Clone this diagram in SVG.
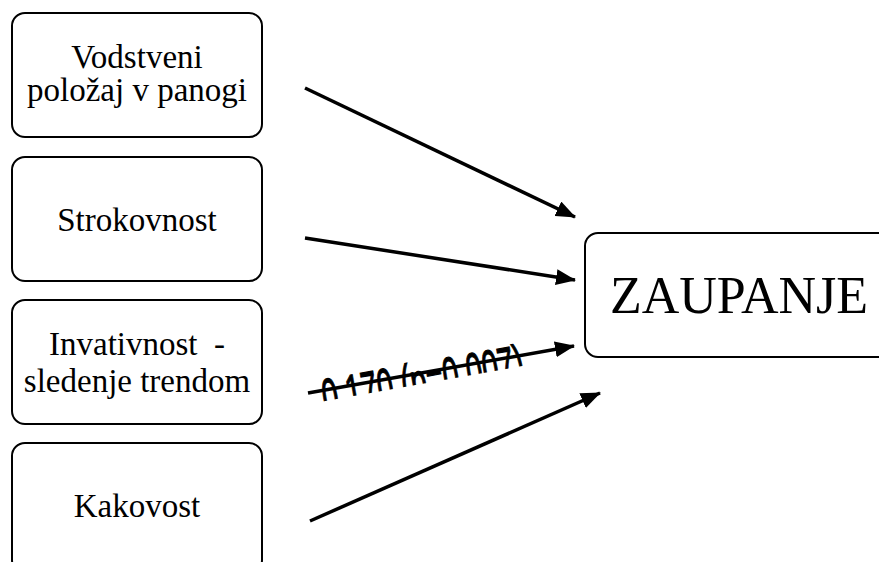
<svg xmlns="http://www.w3.org/2000/svg" width="879" height="562" viewBox="0 0 879 562">
  <style>
    .box { fill: #ffffff; stroke: #000000; stroke-width: 2; }
    .lbl { font-family: "Liberation Serif", "Times New Roman", serif; font-size: 33px; fill: #000000; text-anchor: middle; white-space: pre; }
    .big { font-family: "Liberation Serif", "Times New Roman", serif; font-size: 52px; fill: #000000; }
    .arrow { stroke: #000000; stroke-width: 3.5; fill: none; marker-end: url(#ah); }
    .coef { font-family: "Liberation Sans", Arial, sans-serif; font-size: 27px; fill: #000000; stroke: #000000; stroke-width: 0.6; }
  </style>
  <defs>
    <marker id="ah" markerUnits="userSpaceOnUse" markerWidth="20" markerHeight="16" refX="19" refY="8" orient="auto">
      <path d="M0,0 L20,8 L0,16 z" fill="#000000"/>
    </marker>
    <clipPath id="clip3" clipPathUnits="userSpaceOnUse">
      <rect x="-6" y="-30" width="230" height="41"/>
    </clipPath>
  </defs>

  <g id="node-vodstveni">
    <rect class="box" x="12" y="13" width="250" height="124" rx="13" ry="13"/>
    <text class="lbl" x="137" y="68">Vodstveni</text>
    <text class="lbl" x="137" y="101">položaj v panogi</text>
  </g>
  <g id="node-strokovnost">
    <rect class="box" x="12" y="157" width="250" height="124" rx="13" ry="13"/>
    <text class="lbl" x="137" y="231">Strokovnost</text>
  </g>
  <g id="node-invativnost">
    <rect class="box" x="12" y="300" width="250" height="124" rx="13" ry="13"/>
    <text class="lbl" x="137" y="355">Invativnost  -</text>
    <text class="lbl" x="137" y="392">sledenje trendom</text>
  </g>
  <g id="node-kakovost">
    <rect class="box" x="12" y="443" width="250" height="130" rx="13" ry="13"/>
    <text class="lbl" x="137" y="517">Kakovost</text>
  </g>
  <g id="node-zaupanje">
    <rect class="box" x="585" y="233" width="320" height="124" rx="13" ry="13"/>
    <text class="big" x="610" y="313">ZAUPANJE</text>
  </g>

  <g id="connectors">
    <line class="arrow" x1="305" y1="88" x2="575" y2="217"/>
    <line class="arrow" x1="305" y1="238" x2="575" y2="280"/>
    <line class="arrow" x1="308" y1="393" x2="574" y2="346"/>
    <line class="arrow" x1="310" y1="521" x2="600" y2="393"/>
    <g transform="translate(321,390.5) rotate(-10.06)" clip-path="url(#clip3)">
      <g transform="scale(1,2)">
        <text class="coef" x="0" y="13.5" textLength="204" lengthAdjust="spacingAndGlyphs">0,170 (p=0,007)</text>
      </g>
    </g>
  </g>
</svg>
